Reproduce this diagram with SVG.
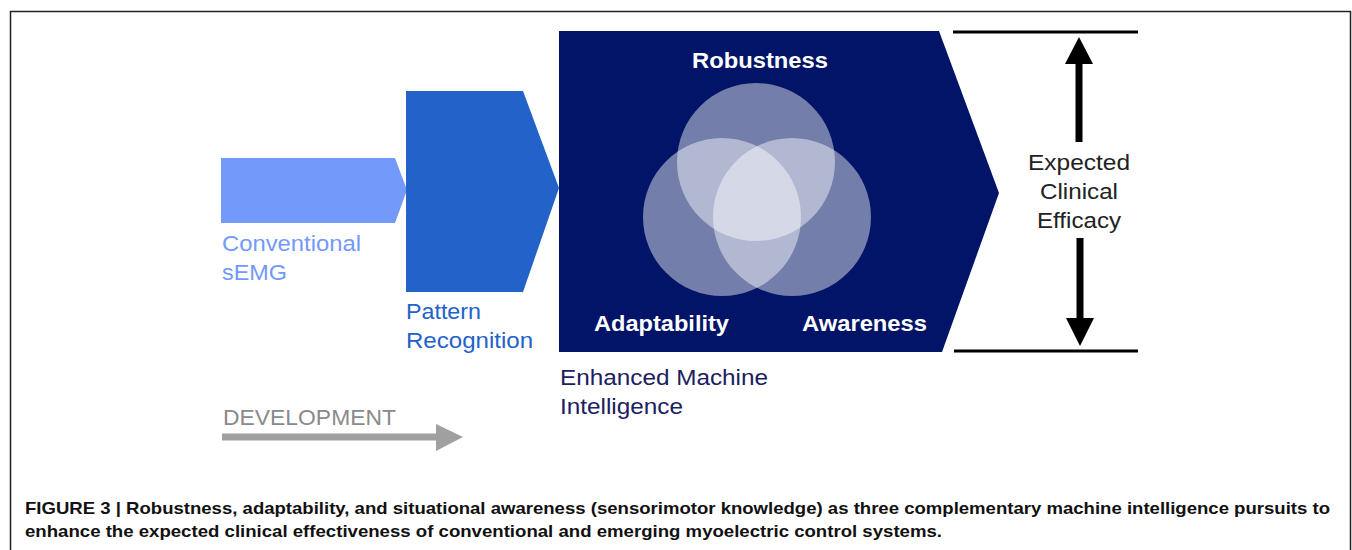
<svg xmlns="http://www.w3.org/2000/svg" width="1352" height="550" viewBox="0 0 1352 550">
<style>
.lbl{font-family:"Liberation Sans",Arial,sans-serif;font-size:22px}
.b{font-family:"Liberation Sans",Arial,sans-serif;font-size:22px;font-weight:bold;fill:#fff}
.ven{fill:#fff;fill-opacity:0.45}
.cap{font-family:"Liberation Sans",Arial,sans-serif;font-size:16.5px;font-weight:bold;fill:#111}
</style>
<rect width="1352" height="550" fill="#fff"/>
<path d="M10.5 550 V11.5 H1350.5 V550" fill="none" stroke="#222" stroke-width="1.5"/>
<g id="conventional">
<polygon points="221,158 395,158 407,190 395,223 221,223" fill="#7399fa"/>
<text class="lbl" fill="#7399fa" x="222" y="251" textLength="139" lengthAdjust="spacingAndGlyphs">Conventional</text>
<text class="lbl" fill="#7399fa" x="222" y="280" textLength="65" lengthAdjust="spacingAndGlyphs">sEMG</text>
</g>
<g id="pattern">
<polygon points="406,91 523,91 559,188 523,292 406,292" fill="#2262c9"/>
<text class="lbl" fill="#2262c9" x="406" y="319" textLength="75" lengthAdjust="spacingAndGlyphs">Pattern</text>
<text class="lbl" fill="#2262c9" x="406" y="348" textLength="127" lengthAdjust="spacingAndGlyphs">Recognition</text>
</g>
<g id="enhanced">
<polygon points="559,31 939,31 999,193 942,352 559,352" fill="#011467"/>
<circle class="ven" cx="756" cy="162" r="79"/>
<circle class="ven" cx="722" cy="217" r="79"/>
<circle class="ven" cx="792" cy="217" r="79"/>
<text class="b" x="692" y="68" textLength="136" lengthAdjust="spacingAndGlyphs">Robustness</text>
<text class="b" x="594" y="331" textLength="135" lengthAdjust="spacingAndGlyphs">Adaptability</text>
<text class="b" x="802" y="331" textLength="125" lengthAdjust="spacingAndGlyphs">Awareness</text>
<text class="lbl" fill="#1a2060" x="560" y="385" textLength="208" lengthAdjust="spacingAndGlyphs">Enhanced Machine</text>
<text class="lbl" fill="#1a2060" x="560" y="414" textLength="123" lengthAdjust="spacingAndGlyphs">Intelligence</text>
</g>
<g id="efficacy">
<line x1="953" y1="32" x2="1138" y2="32" stroke="#000" stroke-width="3"/>
<line x1="954" y1="351" x2="1138" y2="351" stroke="#000" stroke-width="3"/>
<text class="lbl" fill="#222" x="1028" y="170" textLength="102" lengthAdjust="spacingAndGlyphs">Expected</text>
<text class="lbl" fill="#222" x="1040" y="199" textLength="78" lengthAdjust="spacingAndGlyphs">Clinical</text>
<text class="lbl" fill="#222" x="1037" y="228" textLength="84" lengthAdjust="spacingAndGlyphs">Efficacy</text>
</g>
<g id="connectors">
<line x1="1079" y1="142" x2="1079" y2="60" stroke="#000" stroke-width="7"/>
<polygon points="1079,37 1093,64 1065,64" fill="#000"/>
<line x1="1080" y1="238" x2="1080" y2="320" stroke="#000" stroke-width="7"/>
<polygon points="1080,346 1094,318 1066,318" fill="#000"/>
<line x1="222" y1="437" x2="440" y2="437" stroke="#a0a0a0" stroke-width="7"/>
<polygon points="463,437 436,424 436,451" fill="#a0a0a0"/>
</g>
<g id="development">
<text class="lbl" fill="#8a8a8a" x="223" y="425" textLength="173" lengthAdjust="spacingAndGlyphs">DEVELOPMENT</text>
</g>
<g id="caption">
<text class="cap" x="25" y="514" textLength="1305" lengthAdjust="spacingAndGlyphs">FIGURE 3 | Robustness, adaptability, and situational awareness (sensorimotor knowledge) as three complementary machine intelligence pursuits to</text>
<text class="cap" x="25" y="537" textLength="917" lengthAdjust="spacingAndGlyphs">enhance the expected clinical effectiveness of conventional and emerging myoelectric control systems.</text>
</g>
</svg>
